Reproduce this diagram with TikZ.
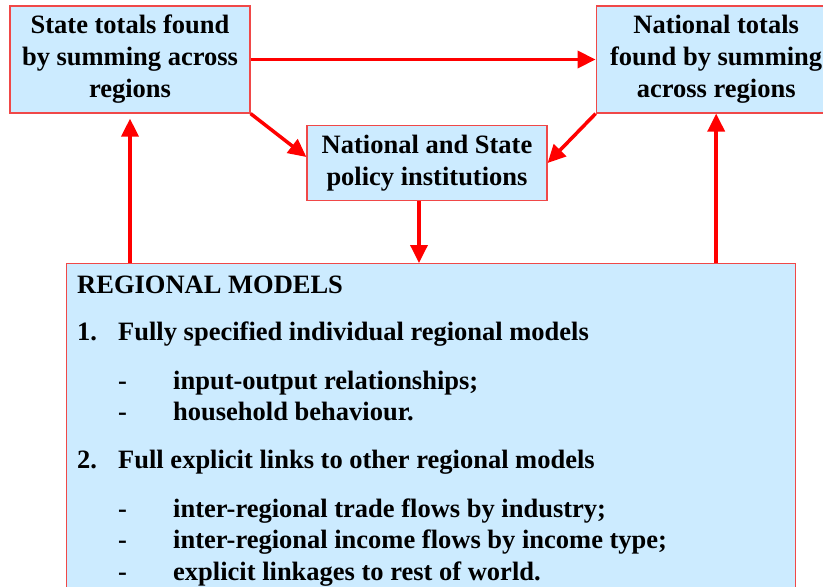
\documentclass[tikz,border=0pt]{standalone}
\usepackage{fontspec}
\setmainfont{Liberation Serif}
\usetikzlibrary{positioning,arrows.meta}
\definecolor{boxblue}{HTML}{CCEBFF}
\definecolor{boxred}{HTML}{F04848}
\tikzset{tbox/.style={draw=boxred,fill=boxblue,line width=1.2pt,align=center,inner sep=0pt,
	 font=\fontsize{26.5}{32}\selectfont\bfseries},
	 itemtxt/.style={anchor=base west,inner sep=0pt,font=\fontsize{26.5}{32}\selectfont\bfseries},
	 flow/.style={draw=red,line width=3.5pt,-{Triangle[length=18pt,width=17pt]}}
	 }
\begin{document}
\begin{tikzpicture}[x=1pt,y=-1pt] % regional models and totals
	\useasboundingbox (0,0) rectangle (823,587);
	\node[tbox,minimum width=240pt,minimum height=107pt] (state) at (130,59.5) {State totals found\\by summing across\\regions};
	\node[tbox,minimum width=240pt,minimum height=107pt] (nat) [right=345pt of state] {National totals\\found by summing\\across regions};
	\node[tbox,minimum width=240pt,minimum height=75pt] (policy) at (427,163) {National and State\\policy institutions};
	\node[tbox,anchor=north west,minimum width=729pt,minimum height=340pt] (models) at (66,263) {};
	\node[itemtxt] (title) at (77,293) {REGIONAL MODELS};
	\node[itemtxt] (n1) at (77,340) {1.};
	\node[itemtxt] (p1) at (118,340) {Fully specified individual regional models};
	\foreach \y/\t [count=\k] in {389/{input-output relationships;},420/{household behaviour.}} {
		\node[itemtxt] (da\k) at (118,\y) {-};
		\node[itemtxt] (sa\k) at (173,\y) {\t};
	}
	\node[itemtxt] (n2) at (77,468) {2.};
	\node[itemtxt] (p2) at (118,468) {Full explicit links to other regional models};
	\foreach \y/\t [count=\k] in {517/{inter-regional trade flows by industry;},548/{inter-regional income flows by income type;},580/{explicit linkages to rest of world.}} {
		\node[itemtxt] (db\k) at (118,\y) {-};
		\node[itemtxt] (sb\k) at (173,\y) {\t};
	}
	\draw[flow] (state.east) -- (nat.west);
	\draw[flow] (state.south east) -- ([yshift=6pt]policy.west);
	\draw[flow] (nat.south west) -- (policy.east);
	\draw[flow] ([xshift=-8pt]policy.south) -- ([xshift=-8pt]policy.south |- models.north);
	\draw[flow,shorten >=5pt] (state.south |- models.north) -- (state.south);
	\draw[flow] (nat.south |- models.north) -- (nat.south);
\end{tikzpicture}
\end{document}
